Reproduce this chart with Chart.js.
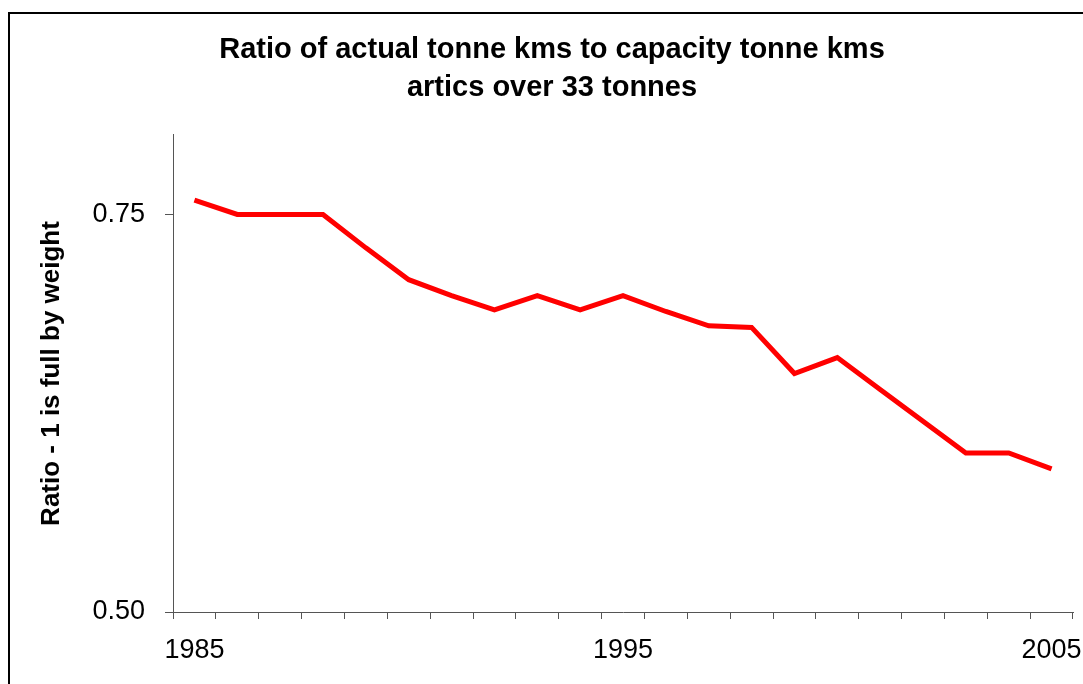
<!DOCTYPE html>
<html>
<head>
<meta charset="utf-8">
<script src="https://cdn.jsdelivr.net/npm/chart.js@4"></script>
<style>
  html, body { margin: 0; padding: 0; background: #fff; overflow: hidden; }
  #wrap { position: relative; width: 1083px; height: 684px; }
  #frame {
    position: absolute; left: 8px; top: 12px; width: 1200px; height: 800px;
    border: 2px solid #000; box-sizing: border-box;
  }
  canvas { position: absolute; left: 0; top: 0; }
</style>
</head>
<body>
<div id="wrap">
  <div id="frame"></div>
  <canvas id="myChart" width="1083" height="684"></canvas>
</div>
<script>
const years = [
  '1985', '1986', '1987', '1988', '1989', '1990', '1991', '1992', '1993', '1994',
  '1995', '1996', '1997', '1998', '1999', '2000', '2001', '2002', '2003', '2004', '2005',
];
const ratio = [
  0.759, 0.750, 0.750, 0.750, 0.729, 0.709, 0.699, 0.690, 0.699, 0.690,
  0.699, 0.689, 0.680, 0.679, 0.650, 0.660, 0.640, 0.620, 0.600, 0.600, 0.590,
];
const shownYears = ['1985', '1995', '2005'];
const yTicks = [0.5, 0.75];

const axisColor = '#555';
const fontFamily = '"Liberation Sans", Arial, sans-serif';

const data = {
  labels: years,
  datasets: [
    {
      label: 'Ratio',
      data: ratio,
      borderColor: '#ff0000',
      backgroundColor: '#ff0000',
      borderWidth: 5,
      pointRadius: 0,
      tension: 0,
      borderJoinStyle: 'miter',
    },
  ],
};

const config = {
  type: 'line',
  data: data,
  options: {
    responsive: false,
    animation: false,
    layout: {
      padding: { left: 31, right: 10, top: 0, bottom: 0 },
    },
    plugins: {
      legend: { display: false },
      tooltip: { enabled: false },
      title: {
        display: true,
        text: ['Ratio of actual tonne kms to capacity tonne kms', 'artics over 33 tonnes'],
        color: '#000',
        font: { family: fontFamily, size: 29, weight: 'bold', lineHeight: 1.31 },
        padding: { top: 31, bottom: 28 },
      },
    },
    scales: {
      x: {
        type: 'category',
        offset: true,
        grid: {
          offset: true,
          drawOnChartArea: false,
          tickLength: 7,
          color: axisColor,
        },
        border: { display: true, color: axisColor, width: 1 },
        ticks: {
          autoSkip: false,
          maxRotation: 0,
          color: '#000',
          padding: 15,
          font: { family: fontFamily, size: 27 },
          callback: function (value) {
            const lab = this.getLabelForValue(value);
            return shownYears.includes(lab) ? lab : '';
          },
        },
        afterFit: (scale) => {
          scale.height = 72;
          scale.paddingLeft = 0;
          scale.paddingRight = 0;
        },
      },
      y: {
        min: 0.5,
        max: 0.8,
        grid: {
          drawOnChartArea: false,
          tickLength: 8,
          color: axisColor,
        },
        border: { display: true, color: axisColor, width: 1 },
        ticks: {
          color: '#000',
          padding: 20,
          font: { family: fontFamily, size: 27 },
          callback: (v) => Number(v).toFixed(2),
        },
        afterBuildTicks: (axis) => {
          axis.ticks = yTicks.map((v) => ({ value: v }));
        },
        title: {
          display: true,
          text: 'Ratio - 1 is full by weight',
          color: '#000',
          font: { family: fontFamily, size: 26, weight: 'bold' },
          padding: { top: 5, bottom: 0 },
        },
        afterFit: (scale) => {
          scale.width = 142;
        },
      },
    },
  },
};

const ctx = document.getElementById('myChart');
const myChart = new Chart(ctx, config);
</script>
</body>
</html>
